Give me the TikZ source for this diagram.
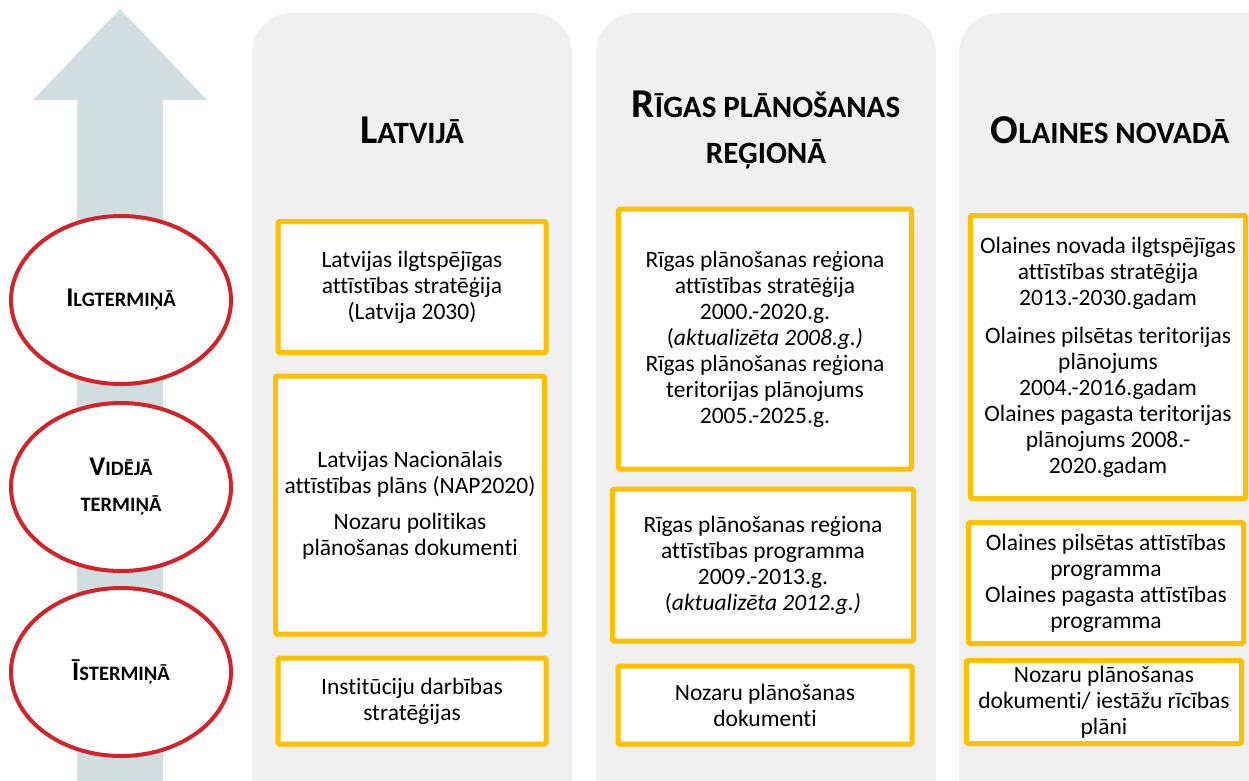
\documentclass[tikz,border=0pt]{standalone}
\usepackage{fontspec}
\setmainfont{Carlito}[Ligatures={NoCommon,NoContextual}]
\usetikzlibrary{shapes.geometric}
\definecolor{colgrey}{HTML}{F0F0F0}
\definecolor{boxyellow}{HTML}{FFC000}
\definecolor{ovalred}{HTML}{D2232A}
\definecolor{arrowblue}{HTML}{D0DEE0}
% fake small caps: big first letter, smaller rest
\newcommand{\headsc}[2]{{\fontsize{41}{46}\selectfont #1}{\fontsize{31}{46}\selectfont #2}}
\newcommand{\ovalsc}[2]{{\fontsize{27}{36}\selectfont #1}{\fontsize{20.5}{36}\selectfont #2}}
\tikzset{
  column/.style={fill=colgrey, draw=none, rounded corners=40pt},
  docbox/.style={draw=boxyellow, line width=5pt, fill=white, rounded corners=1.5pt, align=center,
    inner sep=0pt, font=\fontsize{23.5}{26}\selectfont},
  term/.style={ellipse, draw=ovalred, line width=4pt, fill=white, minimum width=220pt,
    minimum height=168pt, inner sep=0pt, align=center, font=\bfseries\fontsize{20.5}{36}\selectfont},
  heading/.style={align=center, font=\bfseries\fontsize{31}{46}\selectfont}
}
\begin{document}
\begin{tikzpicture}[x=1pt, y=-1pt]
	\useasboundingbox (0,0) rectangle (1249,780);
	\clip (0,0) rectangle (1249,780);
	% arrow
	\fill [arrowblue] (77,790) -- (77,100) -- (33,100) -- (120,9) -- (207,100) -- (163,100) -- (163,790) -- cycle;
	% columns
	\fill [column] (252,820) rectangle (572,13);
	\fill [column] (596,820) rectangle (936,13);
	\fill [column] (959,820) rectangle (1290,13);
	% headings
	\node [heading] (latvija) at (412,130) {\headsc{L}{ATVIJĀ}};
	\node [heading] (rigas) at (766,130) {\headsc{R}{ĪGAS PLĀNOŠANAS}\\REĢIONĀ};
	\node [heading] (olaine) at (1110,130) {\headsc{O}{LAINES NOVADĀ}};
	% terms
	\node [term] (ilgt) at (121,300) {\ovalsc{I}{LGTERMIŅĀ}};
	\node [term] (videja) at (121,487) {\ovalsc{V}{IDĒJĀ}\\TERMIŅĀ};
	\node [term] (ist) at (121,672) {\ovalsc{Ī}{STERMIŅĀ}};
	% Latvija
	\node [docbox, minimum width=268pt, minimum height=131pt] (lv1) at (412,287) {Latvijas ilgtspējīgas\\attīstības stratēģija\\(Latvija 2030)};
	\node [docbox, minimum width=269pt, minimum height=258pt] (lv2) at (410,505) {Latvijas Nacionālais\\attīstības plāns (NAP2020)\\[10pt]Nozaru politikas\\plānošanas dokumenti};
	\node [docbox, minimum width=268pt, minimum height=86pt] (lv3) at (412,701) {Institūciju darbības\\stratēģijas};
	% Rigas planosanas regions
	\node [docbox, minimum width=293pt, minimum height=260pt] (rpr1) at (765,339) {Rīgas plānošanas reģiona\\attīstības stratēģija\\2000.-2020.g.\\(\textit{aktualizēta 2008.g.)}\\Rīgas plānošanas reģiona\\teritorijas plānojums\\2005.-2025.g.};
	\node [docbox, minimum width=301pt, minimum height=152pt] (rpr2) at (763,565) {Rīgas plānošanas reģiona\\attīstības programma\\2009.-2013.g.\\(\textit{aktualizēta 2012.g.)}};
	\node [docbox, minimum width=294pt, minimum height=78pt] (rpr3) at (765,705) {Nozaru plānošanas\\dokumenti};
	% Olaines novads
	\node [docbox, minimum width=275pt, minimum height=283pt] (on1) at (1108,357) {Olaines novada ilgtspējīgas\\attīstības stratēģija\\2013.-2030.gadam\\[12pt]Olaines pilsētas teritorijas\\plānojums\\2004.-2016.gadam\\Olaines pagasta teritorijas\\plānojums 2008.-\\2020.gadam};
	\node [docbox, minimum width=275pt, minimum height=121pt] (on2) at (1106,583) {Olaines pilsētas attīstības\\programma\\Olaines pagasta attīstības\\programma};
	\node [docbox, minimum width=275pt, minimum height=83pt] (on3) at (1104,702) {Nozaru plānošanas\\dokumenti/ iestāžu rīcības\\plāni};
\end{tikzpicture}
\end{document}
